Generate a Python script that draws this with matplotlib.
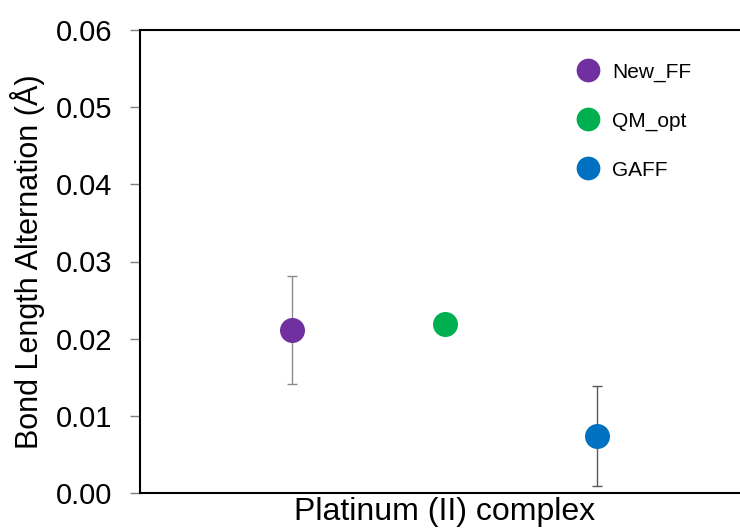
import matplotlib
matplotlib.use("Agg")
import matplotlib.pyplot as plt

plt.rcParams['font.family'] = ['Liberation Sans', 'DejaVu Sans']

# data
methods = ['New_FF', 'QM_opt', 'GAFF']
bla = [0.0211, 0.0219, 0.0074]
bla_err = [0.0070, None, 0.0065]
colors = ['#7030A0', '#00B050', '#0070C0']
err_colors = ['#8c8c8c', None, '#595959']
yticks = [0.00, 0.01, 0.02, 0.03, 0.04, 0.05, 0.06]

fig = plt.figure(figsize=(7.4, 5.29), dpi=100)
ax = fig.add_axes([140 / 740, 36 / 529, 600 / 740, 463 / 529])

handles = []
for i, (name, val, err, c, ec) in enumerate(zip(methods, bla, bla_err, colors, err_colors)):
    xpos = i + 1
    if err is not None:
        ax.errorbar(xpos, val, yerr=err, fmt='none', ecolor=ec, elinewidth=1.0,
                    capsize=3.5, capthick=1.0, zorder=2)
    h, = ax.plot(xpos, val, 'o', color=c, markersize=18, markeredgewidth=0,
                 label=name, zorder=3)
    handles.append(h)

ax.set_xlim(0, 3.94)
ax.set_ylim(0, 0.06)
ax.set_yticks(yticks)
ax.set_yticklabels([f'{t:.2f}' for t in yticks])
ax.set_xticks([])

for side in ['left', 'bottom', 'top']:
    ax.spines[side].set_color('black')
    ax.spines[side].set_linewidth(1.5)
ax.spines['right'].set_visible(False)

ax.tick_params(axis='y', direction='out', length=7, width=1, color='#7f7f7f',
               labelsize=21, pad=13)

ax.set_ylabel('Bond Length Alternation (Å)', fontsize=22)
ax.yaxis.set_label_coords(-0.158, 0.5)
ax.set_xlabel('Platinum (II) complex', fontsize=23)
ax.xaxis.set_label_coords(0.508, -0.008)

ax.legend(handles=handles, loc='upper left', bbox_to_anchor=(0.697, 0.97),
          frameon=False, fontsize=15, markerscale=0.95, labelspacing=1.43,
          handletextpad=0.6, handlelength=1.1)

fig.savefig('out.png', dpi=100)
